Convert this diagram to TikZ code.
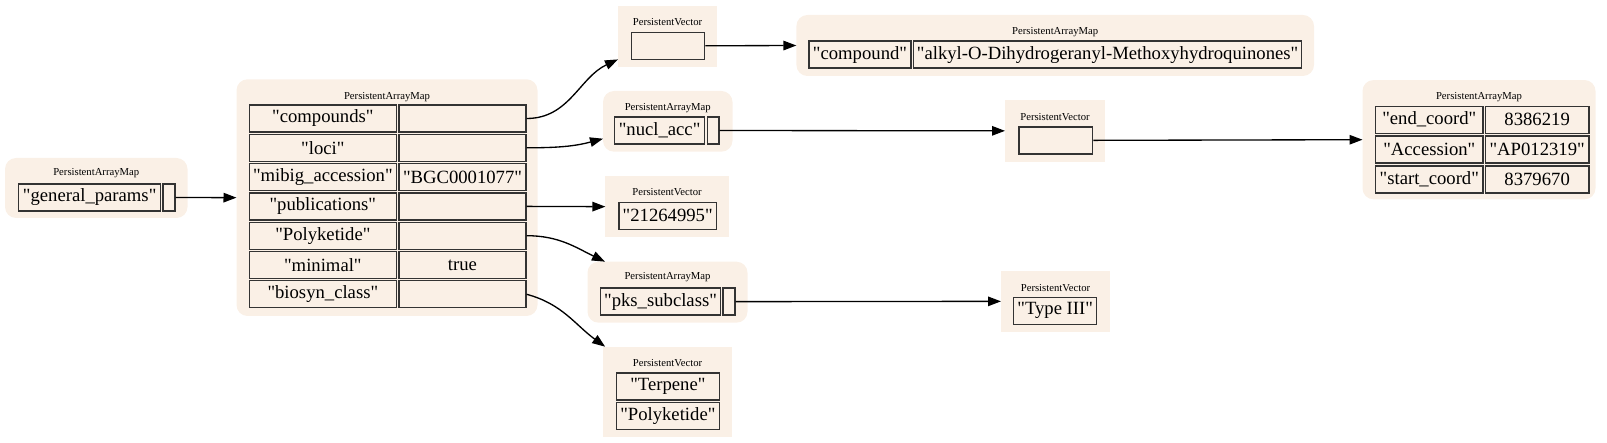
\documentclass[tikz,border=0pt]{standalone}
\usepackage{fontspec}
\setmainfont{Liberation Serif}[Ligatures=TeXOff]
\usepackage{tikz}
\usepackage{xcolor}
\usetikzlibrary{arrows.meta}

\definecolor{boxfill}{HTML}{FAF0E6}
\definecolor{cellline}{HTML}{333333}

\tikzset{
  mapbox/.style={fill=boxfill, rounded corners=11pt, inner sep=0pt, outer sep=0pt},
  vecbox/.style={fill=boxfill, inner sep=0pt, outer sep=0pt},
  boxtitle/.style={inner sep=0pt, font=\fontsize{10.67}{12}\selectfont},
  cellbox/.style={draw=cellline, line width=1.33pt, inner sep=0pt,
                  minimum height=27pt, font=\fontsize{18.67}{22}\selectfont},
  link/.style={-{Triangle[length=13pt,width=9.5pt]}, line width=1.33pt, black},
}

\begin{document}
\begin{tikzpicture}[x=1pt, y=-1pt]
\useasboundingbox (0,0) rectangle (1607,443);

% outer boxes
\node[mapbox, minimum width=182.5pt, minimum height=60pt] (genmap) at (96.25,188) {};
\node[mapbox, minimum width=301pt, minimum height=236.7pt] (mainmap) at (387,197.65) {};
\node[vecbox, minimum width=99pt, minimum height=60.7pt] (compvec) at (667.5,36.35) {};
\node[mapbox, minimum width=517.6pt, minimum height=61pt] (cmpmap) at (1055.2,45.5) {};
\node[mapbox, minimum width=129.5pt, minimum height=60.7pt] (locimap) at (667.75,121.35) {};
\node[vecbox, minimum width=100pt, minimum height=61.7pt] (coordvec) at (1055,130.85) {};
\node[mapbox, minimum width=233pt, minimum height=119.3pt] (coordmap) at (1479,139.7) {};
\node[vecbox, minimum width=123.2pt, minimum height=61.3pt] (pubvec) at (667,206.65) {};
\node[mapbox, minimum width=160pt, minimum height=61pt] (pksmap) at (667.5,292.2) {};
\node[vecbox, minimum width=109pt, minimum height=60.7pt] (typevec) at (1055.5,301.35) {};
\node[vecbox, minimum width=129pt, minimum height=90.6pt] (biosynvec) at (667.5,392) {};

% titles
\node[boxtitle] (gentitle) at (96.25,173) {PersistentArrayMap};
\node[boxtitle] (maintitle) at (387,96.7) {PersistentArrayMap};
\node[boxtitle] (comptitle) at (667.5,21.7) {PersistentVector};
\node[boxtitle] (cmptitle) at (1055.2,32.3) {PersistentArrayMap};
\node[boxtitle] (locititle) at (667.75,107.7) {PersistentArrayMap};
\node[boxtitle] (coordvtitle) at (1055,116.7) {PersistentVector};
\node[boxtitle] (coordmtitle) at (1479,97.3) {PersistentArrayMap};
\node[boxtitle] (pubtitle) at (667,192.3) {PersistentVector};
\node[boxtitle] (pkstitle) at (667.5,277.3) {PersistentArrayMap};
\node[boxtitle] (typetitle) at (1055.5,287.7) {PersistentVector};
\node[boxtitle] (biosyntitle) at (667.5,363.3) {PersistentVector};

% cells
\node[cellbox, minimum width=142.1pt] (genkey) at (89.65,197.5) {"general\_params"};
\node[cellbox, minimum width=12pt] (genptr) at (169,197.5) {};

\node[cellbox, minimum width=147.1pt] (compkey) at (322.85,118.5) {"compounds"};
\node[cellbox, minimum width=127pt] (compval) at (462.5,118.5) {};
\node[cellbox, minimum width=147.1pt] (locikey) at (322.85,147.8) {"loci"};
\node[cellbox, minimum width=127pt] (locival) at (462.5,147.8) {};
\node[cellbox, minimum width=147.1pt] (mibigkey) at (322.85,177.1) {"mibig\_accession"};
\node[cellbox, minimum width=127pt] (mibigval) at (462.5,177.1) {"BGC0001077"};
\node[cellbox, minimum width=147.1pt] (pubkey) at (322.85,206.4) {"publications"};
\node[cellbox, minimum width=127pt] (pubval) at (462.5,206.4) {};
\node[cellbox, minimum width=147.1pt] (polykey) at (322.85,235.7) {"Polyketide"};
\node[cellbox, minimum width=127pt] (polyval) at (462.5,235.7) {};
\node[cellbox, minimum width=147.1pt] (minkey) at (322.85,265) {"minimal"};
\node[cellbox, minimum width=127pt] (minval) at (462.5,265) {true};
\node[cellbox, minimum width=147.1pt] (biosynkey) at (322.85,294.3) {"biosyn\_class"};
\node[cellbox, minimum width=127pt] (biosynval) at (462.5,294.3) {};

\node[cellbox, minimum width=73.2pt] (compcell) at (668,45.8) {};
\node[cellbox, minimum width=102pt] (cmpkey) at (860,54.65) {"compound"};
\node[cellbox, minimum width=388pt] (cmpval) at (1107.6,54.65) {"alkyl-O-Dihydrogeranyl-Methoxyhydroquinones"};

\node[cellbox, minimum width=90pt] (nuclkey) at (659.6,130.5) {"nucl\_acc"};
\node[cellbox, minimum width=11.5pt] (nuclptr) at (713.25,130.5) {};
\node[cellbox, minimum width=73.7pt] (coordcell) at (1055.85,140.35) {};

\node[cellbox, minimum width=107.2pt] (endkey) at (1429.3,119.7) {"end\_coord"};
\node[cellbox, minimum width=103.5pt] (endval) at (1537.15,119.7) {8386219};
\node[cellbox, minimum width=107.2pt] (acckey) at (1429.3,149.5) {"Accession"};
\node[cellbox, minimum width=103.5pt] (accval) at (1537.15,149.5) {"AP012319"};
\node[cellbox, minimum width=107.2pt] (startkey) at (1429.3,179.5) {"start\_coord"};
\node[cellbox, minimum width=103.5pt] (startval) at (1537.15,179.5) {8379670};

\node[cellbox, minimum width=97.4pt] (pubcell) at (667.7,215.8) {"21264995"};

\node[cellbox, minimum width=120.3pt] (pkskey) at (660.55,301.65) {"pks\_subclass"};
\node[cellbox, minimum width=12.1pt] (pksptr) at (728.95,301.65) {};
\node[cellbox, minimum width=83.2pt] (typecell) at (1055.2,310.8) {"Type III"};

\node[cellbox, minimum width=102.9pt] (terpcell) at (667.85,386.65) {"Terpene"};
\node[cellbox, minimum width=102.9pt] (polycell) at (667.85,416) {"Polyketide"};

% links
\draw[link] (genptr.east) -- (mainmap.west);
\draw[link] (compval.east) to[out=0, in=205] (compvec);
\draw[link] (locival.east) to[out=0, in=195] (locimap);
\draw[link] (pubval.east) -- (pubvec.west);
\draw[link] (polyval.east) to[out=0, in=154] (pksmap);
\draw[link] (biosynval.east) to[out=-15, in=144] (biosynvec);
\draw[link] (compcell.east) -- (cmpmap.west);
\draw[link] (nuclptr.east) -- (coordvec.west);
\draw[link] (coordcell.east) -- (coordmap.west);
\draw[link] (pksptr.east) -- (typevec.west);
\end{tikzpicture}
\end{document}
